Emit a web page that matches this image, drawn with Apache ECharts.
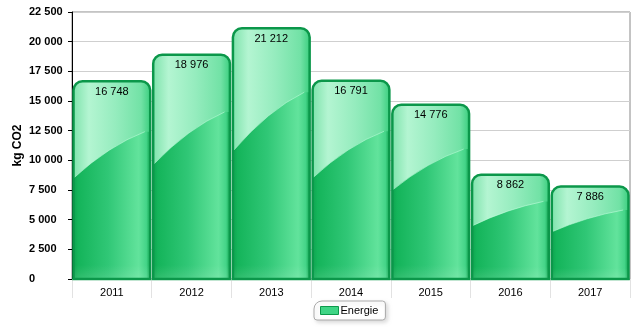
<!DOCTYPE html>
<html><head><meta charset="utf-8">
<script src="https://cdn.jsdelivr.net/npm/echarts@6/dist/echarts.min.js"></script>
<style>html,body{margin:0;padding:0;background:#fff}#c{width:640px;height:330px}</style>
</head><body><div id="c"></div>
<script>
const categories = ['2011','2012','2013','2014','2015','2016','2017'];
const energie = [16748, 18976, 21212, 16791, 14776, 8862, 7886];
const seriesName = 'Energie';
const yTitle = 'kg CO2';

function fmt(v){ return String(Math.round(v)).replace(/\B(?=(\d{3})+(?!\d))/g, ' '); }

const G = echarts.graphic;
function renderBar(params, api) {
  const idx = api.value(0), v = api.value(1);
  const top = api.coord([idx, v]);
  const base = api.coord([idx, 0]);
  const w = api.size([1, 0])[0];
  const x0 = top[0] - w / 2 + 1.5, x1 = top[0] + w / 2 - 1.5;
  const y0 = top[1] + 1, yb = base[1];
  const h = yb - y0;
  const r = 9;
  const xe = x0 + (x1 - x0) * 0.93;
  const yL = y0 + h * 0.49, yR = y0 + h * 0.255;
  const cx = x0 + (xe - x0) * 0.5, cy = y0 + h * 0.325;
  const glossPath = 'M' + x0 + ' ' + (y0 + r) + ' Q' + x0 + ' ' + y0 + ' ' + (x0 + r) + ' ' + y0 +
    ' L' + (x1 - r) + ' ' + y0 + ' Q' + x1 + ' ' + y0 + ' ' + x1 + ' ' + (y0 + r) +
    ' L' + x1 + ' ' + yR + ' L' + xe + ' ' + yR + ' Q' + cx + ' ' + cy + ' ' + x0 + ' ' + yL + ' Z';
  const curvePath = 'M' + xe + ' ' + yR + ' Q' + cx + ' ' + cy + ' ' + x0 + ' ' + yL;
  return {
    type: 'group',
    children: [
      {
        type: 'rect',
        shape: { x: x0, y: y0, width: x1 - x0, height: h, r: [r, r, 0, 0] },
        style: {
          fill: new G.LinearGradient(0, 0, 1, 0, [
            { offset: 0, color: '#0ea34f' },
            { offset: 0.06, color: '#14b45a' },
            { offset: 0.45, color: '#30c776' },
            { offset: 0.85, color: '#62e39c' },
            { offset: 0.95, color: '#44d488' },
            { offset: 1, color: '#12a552' }
          ])
        }
      },
      {
        type: 'rect',
        shape: { x: x0, y: yb - Math.min(14, h * 0.12), width: x1 - x0, height: Math.min(14, h * 0.12) },
        style: {
          fill: new G.LinearGradient(0, 0, 0, 1, [
            { offset: 0, color: 'rgba(255,255,255,0)' },
            { offset: 1, color: 'rgba(255,255,255,0.12)' }
          ])
        }
      },
      {
        type: 'path',
        shape: { pathData: glossPath },
        style: {
          fill: new G.LinearGradient(0, 0, 1, 0, [
            { offset: 0, color: '#7fe3ac' },
            { offset: 0.2, color: '#b4f5d2' },
            { offset: 0.55, color: '#95ecbe' },
            { offset: 0.88, color: '#72e2a6' },
            { offset: 1, color: '#3dcf80' }
          ])
        }
      },
      {
        type: 'path',
        shape: { pathData: curvePath },
        style: { fill: null, stroke: 'rgba(200,255,225,0.55)', lineWidth: 1 }
      },
      {
        type: 'rect',
        shape: { x: x0, y: y0, width: x1 - x0, height: h, r: [r, r, 0, 0] },
        style: { fill: null, stroke: '#0b974a', lineWidth: 2.5 }
      },
      {
        type: 'text',
        style: {
          text: fmt(v), x: top[0], y: y0 + 5,
          align: 'center', verticalAlign: 'top',
          fill: '#000', fontSize: 11, fontFamily: 'Liberation Sans, Arial, sans-serif'
        }
      }
    ]
  };
}

const chart = echarts.init(document.getElementById('c'));
chart.setOption({
  animation: false,
  textStyle: { fontFamily: 'Liberation Sans, Arial, sans-serif' },
  grid: { left: 72, right: 10, top: 12, bottom: 51, containLabel: false, outerBoundsMode: 'none',
          show: true, borderColor: '#888', borderWidth: 1, backgroundColor: 'transparent' },
  legend: {
    top: 301, left: 314,
    data: [seriesName],
    itemWidth: 18, itemHeight: 8, itemGap: 4,
    icon: 'rect',
    borderColor: '#aaa', borderWidth: 1, borderRadius: [8, 3, 3, 3],
    padding: [4, 7, 4, 6],
    shadowColor: 'rgba(0,0,0,0.15)', shadowBlur: 4, shadowOffsetX: 2, shadowOffsetY: 2,
    backgroundColor: '#fff',
    textStyle: { fontSize: 11, color: '#000', padding: [0, 0, 0, -3] },
    itemStyle: { borderColor: '#0c9a4b', borderWidth: 1 }
  },
  xAxis: {
    type: 'category', data: categories,
    axisLine: { lineStyle: { color: '#999' } },
    axisTick: { show: true, length: 19, lineStyle: { color: '#e2e2e2' } },
    axisLabel: { color: '#000', fontSize: 11, margin: 8 }
  },
  yAxis: {
    type: 'value', min: 0, max: 22500, interval: 2500,
    name: yTitle, nameLocation: 'middle', nameGap: 48, nameRotate: 90, nameMoveOverlap: false,
    nameTextStyle: { fontSize: 12, fontWeight: 'bold', color: '#000' },
    axisLine: { show: true, lineStyle: { color: '#000' } },
    axisTick: { show: true, length: 4, lineStyle: { color: '#000' } },
    axisLabel: { color: '#000', fontSize: 11, fontWeight: 'bold', formatter: fmt, margin: 43, align: 'left' },
    splitLine: { lineStyle: { color: '#cfcfcf' } }
  },
  series: [
    {
      name: seriesName, type: 'custom',
      renderItem: renderBar,
      encode: { x: 0, y: 1 },
      itemStyle: { color: '#3fd585' },
      data: energie.map((v, i) => [i, v])
    }
  ]
});
</script></body></html>
